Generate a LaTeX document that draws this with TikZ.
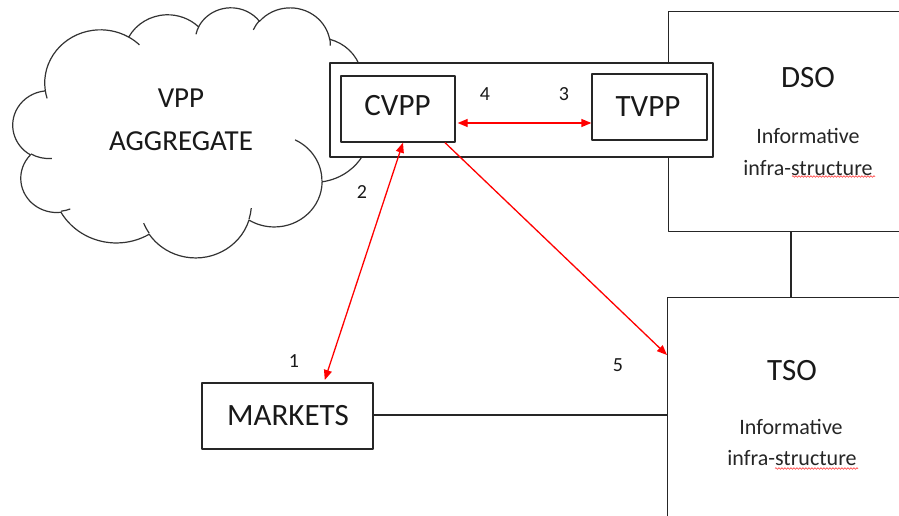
\documentclass[tikz,border=0pt]{standalone}
\usepackage{fontspec}
\setmainfont{Carlito}
\usetikzlibrary{arrows.meta,decorations.pathmorphing}

% convert an OOXML arcTo (visual angles) to parametric TikZ angles
\newcommand\cvtarc[5]{%
  \pgfmathsetmacro\tmpa{atan2((#2)*sin(#4),(#3)*cos(#4))}%
  \pgfmathsetmacro\tmpb{atan2((#2)*sin((#4)+(#5)),(#3)*cos((#4)+(#5)))}%
  \pgfmathsetmacro\tmpd{\tmpb-\tmpa}%
  \pgfmathsetmacro\tmpd{(#5)>0 ? (\tmpd<0 ? \tmpd+360 : \tmpd) : (\tmpd>0 ? \tmpd-360 : \tmpd)}%
  \expandafter\xdef\csname #1s\endcsname{\tmpa}%
  \expandafter\xdef\csname #1d\endcsname{\tmpd}%
}

\begin{document}
\cvtarc{oA}{675.3}{919.0}{-190.4875}{123.7805}
\cvtarc{oB}{533.3}{726.7}{-144.1024}{89.9452}
\cvtarc{oC}{436.5}{594.5}{-145.8079}{99.7230}
\cvtarc{oD}{485.7}{659.5}{-130.9861}{117.2417}
\cvtarc{oE}{533.3}{727.3}{-78.7089}{109.0269}
\cvtarc{oF}{677.5}{922.0}{-46.2673}{130.2690}
\cvtarc{oG}{578.5}{786.7}{0.6250}{114.0333}
\cvtarc{oH}{675.2}{921.5}{22.4516}{115.1726}
\cvtarc{oI}{772.0}{1054.3}{66.2426}{75.7110}
\cvtarc{oJ}{436.0}{591.8}{-274.9421}{146.7356}
\cvtarc{oK}{434.5}{594.5}{-246.8285}{152.5189}
\cvtarc{iA}{434.5}{594.5}{86.742}{26.430}
\cvtarc{iB}{436.0}{591.8}{73.610}{11.447}
\cvtarc{iC}{675.2}{921.5}{137.620}{14.080}
\cvtarc{iD}{675.2}{921.5}{6.453}{15.998}
\cvtarc{iE}{578.5}{786.7}{-70.290}{70.920}
\cvtarc{iF}{533.3}{727.3}{30.318}{27.750}
\cvtarc{iG}{485.7}{659.5}{-13.744}{14.859}
\cvtarc{iH}{485.7}{659.5}{-149.180}{18.195}
\cvtarc{iI}{436.5}{594.5}{-163.490}{17.686}
\cvtarc{iJ}{675.3}{919.0}{-66.710}{12.320}
\cvtarc{iK}{675.3}{919.0}{157.650}{11.858}
\begin{tikzpicture}[x=1pt,y=-1pt,line join=round,
  cloudline/.style={draw=black!80,line width=1.2pt},
  box/.style={draw=black!85,line width=1.3pt,fill=white,inner sep=0pt},
  link/.style={draw=black!85,line width=1.3pt},
  redboth/.style={draw=red,line width=1.3pt,{Triangle[length=10pt,width=8pt]}-{Triangle[length=10pt,width=8pt]}},
  redone/.style={draw=red,line width=1.3pt,-{Triangle[length=10pt,width=8pt]}},
  lbig/.style={font=\fontsize{31}{37}\selectfont,anchor=base,inner sep=0pt,text=black!90},
  lcloud/.style={font=\fontsize{29}{35}\selectfont,anchor=base,inner sep=0pt,text=black!90},
  linfo/.style={font=\fontsize{22}{26}\selectfont,anchor=base,inner sep=0pt,text=black!85},
  lnum/.style={font=\fontsize{20}{24}\selectfont,anchor=base,inner sep=0pt,text=black!90},
  squiggle/.style={draw=red!80,line width=0.6pt,decorate,decoration={snake,amplitude=0.8pt,segment length=3pt}}]
\useasboundingbox (0,0) rectangle (899,516);
\clip (0,0) rectangle (899,516);

% cloud (VPP aggregate)
\begin{scope}[shift={(13,7)},x=0.08264pt,y=-0.05787pt]
  \draw[cloudline,fill=white] (390,1437)
    arc[start angle=\oAs,delta angle=\oAd,x radius=675.3,y radius=919.0]
    arc[start angle=\oBs,delta angle=\oBd,x radius=533.3,y radius=726.7]
    arc[start angle=\oCs,delta angle=\oCd,x radius=436.5,y radius=594.5]
    arc[start angle=\oDs,delta angle=\oDd,x radius=485.7,y radius=659.5]
    arc[start angle=\oEs,delta angle=\oEd,x radius=533.3,y radius=727.3]
    arc[start angle=\oFs,delta angle=\oFd,x radius=677.5,y radius=922.0]
    arc[start angle=\oGs,delta angle=\oGd,x radius=578.5,y radius=786.7]
    arc[start angle=\oHs,delta angle=\oHd,x radius=675.2,y radius=921.5]
    arc[start angle=\oIs,delta angle=\oId,x radius=772.0,y radius=1054.3]
    arc[start angle=\oJs,delta angle=\oJd,x radius=436.0,y radius=591.8]
    arc[start angle=\oKs,delta angle=\oKd,x radius=434.5,y radius=594.5]
    -- cycle;
  \draw[cloudline]
    (469.3,2617.7) arc[start angle=\iAs,delta angle=\iAd,x radius=434.5,y radius=594.5]
    (692.8,3489.9) arc[start angle=\iBs,delta angle=\iBd,x radius=436.0,y radius=591.8]
    (1647.8,3909.0) arc[start angle=\iCs,delta angle=\iCd,x radius=675.2,y radius=921.5]
    (2882.7,3475.1) arc[start angle=\iDs,delta angle=\iDd,x radius=675.2,y radius=921.5]
    (3412.9,2295.4) arc[start angle=\iEs,delta angle=\iEd,x radius=578.5,y radius=786.7]
    (4179.8,1535.4) arc[start angle=\iFs,delta angle=\iFd,x radius=533.3,y radius=727.3]
    (3832.4,542.6) arc[start angle=\iGs,delta angle=\iGd,x radius=485.7,y radius=659.5]
    (2907.8,395.2) arc[start angle=\iHs,delta angle=\iHd,x radius=485.7,y radius=659.5]
    (2214.1,472.0) arc[start angle=\iIs,delta angle=\iId,x radius=436.5,y radius=594.5]
    (1400.0,519.2) arc[start angle=\iJs,delta angle=\iJd,x radius=675.3,y radius=919.0]
    (412.7,1578.9) arc[start angle=\iKs,delta angle=\iKd,x radius=675.3,y radius=919.0];
\end{scope}

% boxes
\node[box,minimum width=280pt,minimum height=220pt,anchor=north west] (DSO) at (668,11) {};
\node[box,minimum width=250pt,minimum height=240pt,anchor=north west] (TSO) at (667,297) {};
\node[box,minimum width=383pt,minimum height=94pt] (VPPbox) at (521.5,110) {};
\node[box,minimum width=114pt,minimum height=66pt] (CVPP) at (398,109) {};
\node[box,minimum width=115pt,minimum height=66pt] (TVPP) at (649.5,107) {};
\node[box,minimum width=171pt,minimum height=66pt] (MARKETS) at (287.5,416) {};

% helper coordinates
\coordinate (ay) at (0,123);
\coordinate (xa) at (403,0);
\coordinate (xb) at (324,0);
\coordinate (xc) at (445,0);
\coordinate (yc) at (0,355);
\coordinate (xj) at (791,0);
\coordinate (ym) at (0,415);

% black connectors
\draw[link] (MARKETS.east |- ym) -- (TSO.west |- ym);
\draw[link] (DSO.south -| xj) -- (TSO.north -| xj);

% red connectors
\draw[redboth,shorten <=2pt] (CVPP.east |- ay) -- (TVPP.west |- ay);
\draw[redboth,shorten >=2.5pt] (CVPP.south -| xa) -- (MARKETS.north -| xb);
\draw[redone] (CVPP.south -| xc) -- (TSO.west |- yc);

% texts
\node[lcloud] (t1) at (181,108) {VPP};
\node[lcloud] (t2) at (181,150) {AGGREGATE};
\node[lbig] (t3) at (397.5,116) {CVPP};
\node[lbig] (t4) at (648,116.5) {TVPP};
\node[lbig] (t5) at (808,88) {DSO};
\node[linfo] (t6) at (808,143) {Informative};
\node[linfo] (t7) at (808,175) {infra-structure};
\node[lbig] (t8) at (792,380) {TSO};
\node[linfo] (t9) at (791,434) {Informative};
\node[linfo] (t10) at (792,465) {infra-structure};
\node[lbig] (t11) at (288,425) {MARKETS};
\node[lnum] (n4) at (485,101) {4};
\node[lnum] (n3) at (564,101) {3};
\node[lnum] (n2) at (362,198) {2};
\node[lnum] (n1) at (294,367) {1};
\node[lnum] (n5) at (618,371) {5};

% spell-check underlines
\draw[squiggle] (792,176.5) -- (875,176.5);
\draw[squiggle] (775,468.5) -- (858,468.5);
\end{tikzpicture}
\end{document}
